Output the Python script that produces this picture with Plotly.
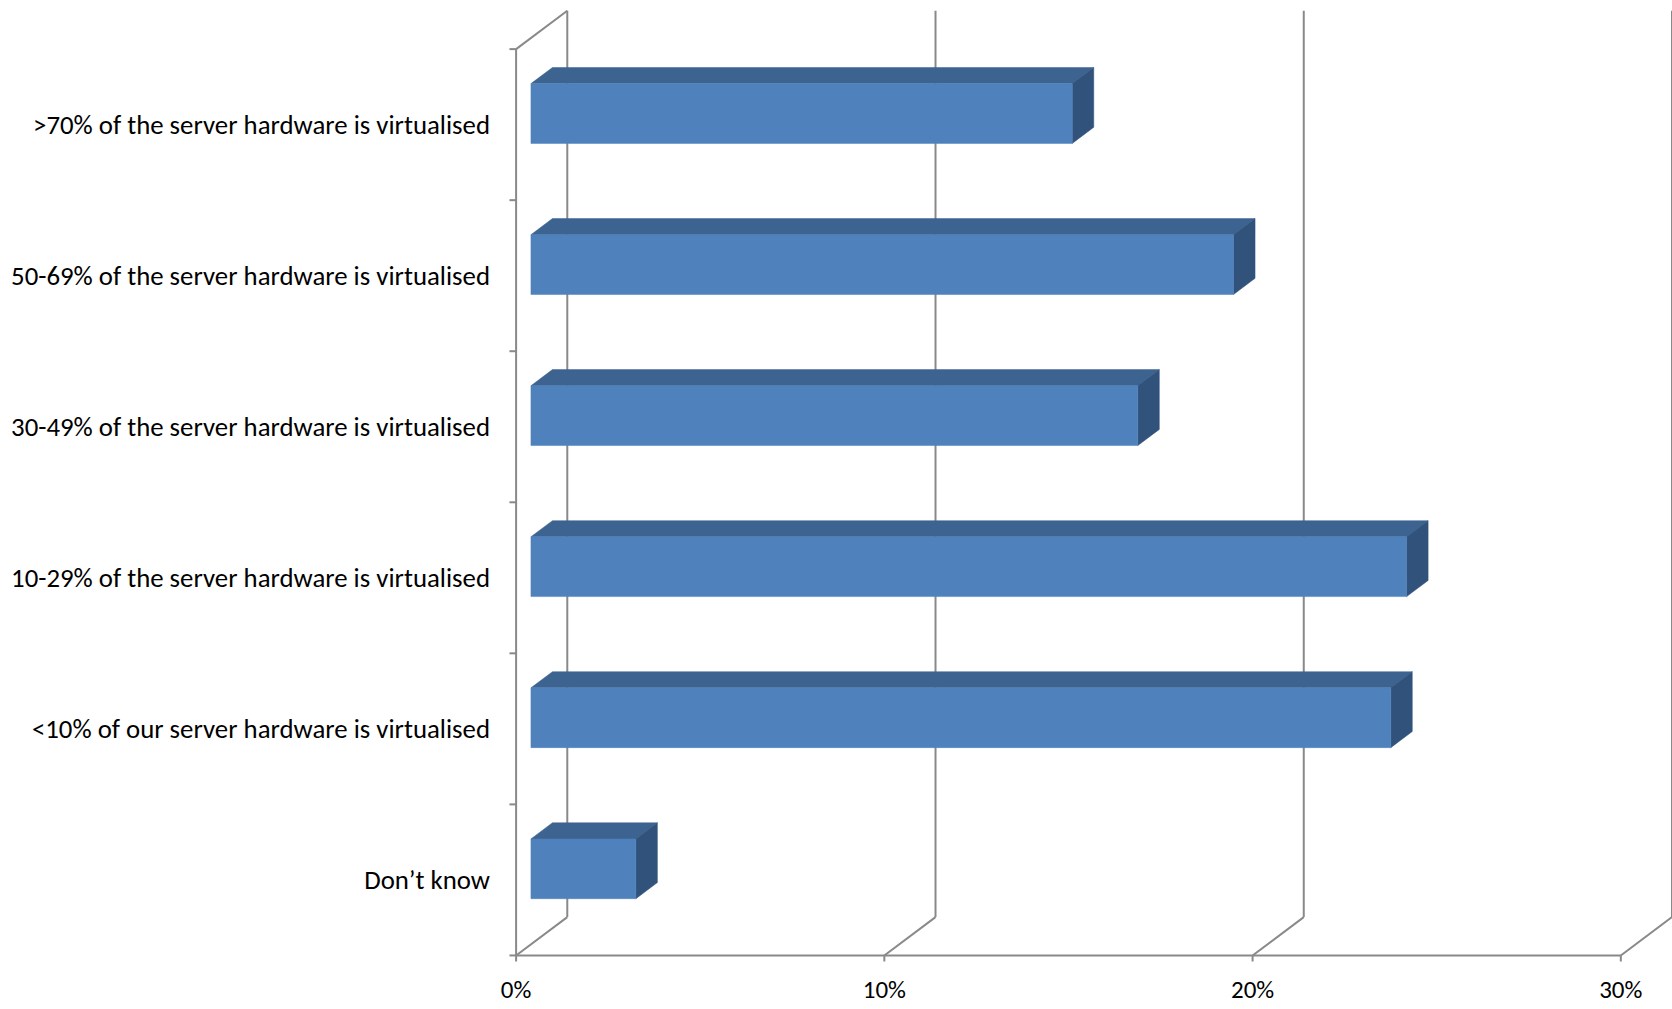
import plotly.graph_objects as go

# ---- data ----
categories = [
    "Don\u2019t know",
    "<10% of our server hardware is virtualised",
    "10-29% of the server hardware is virtualised",
    "30-49% of the server hardware is virtualised",
    "50-69% of the server hardware is virtualised",
    ">70% of the server hardware is virtualised",
]
values = [2.85, 23.35, 23.78, 16.48, 19.08, 14.7]
x_ticks = [0, 10, 20, 30]
x_tick_labels = ["0%", "10%", "20%", "30%"]

# ---- 3D oblique geometry (in data units) ----
DX = 1.39     # depth shift along x (percent units) for full wall depth
DY = 0.254    # depth shift along y (category units)
D0, D1 = 0.29, 0.71   # bar front / back depth
H = 0.198             # half bar thickness
NCAT = len(categories)
XMAX = x_ticks[-1]

GRID = "#898989"
FRONT = "#4F81BD"
TOP = "#3D6390"
SIDE = "#31527A"

fig = go.Figure()

def line(xs, ys, color=GRID, width=2):
    fig.add_trace(go.Scatter(x=xs, y=ys, mode="lines",
                             line=dict(color=color, width=width),
                             hoverinfo="skip", showlegend=False))

# back wall gridlines
for v in x_ticks:
    line([v + DX, v + DX], [DY, NCAT + DY])
# floor diagonals
for v in x_ticks:
    line([v, v + DX], [0, DY])
# left wall top edge
line([0, DX], [NCAT, NCAT + DY])
# front vertical axis
line([0, 0], [0, NCAT])
# left tick stubs
for k in range(NCAT + 1):
    line([-0.18, 0], [k, k])
# front horizontal axis
line([0, XMAX], [0, 0])
for v in x_ticks:
    line([v, v], [0, -0.04])

# bars
def poly(xs, ys, color):
    fig.add_trace(go.Scatter(x=xs + [xs[0]], y=ys + [ys[0]], mode="lines",
                             fill="toself", fillcolor=color,
                             line=dict(color=color, width=0.5),
                             hoverinfo="skip", showlegend=False))

for i, v in enumerate(values):
    c = i + 0.5
    # top face
    poly([D0 * DX, v + D0 * DX, v + D1 * DX, D1 * DX],
         [c + H + D0 * DY, c + H + D0 * DY, c + H + D1 * DY, c + H + D1 * DY], TOP)
    # side face
    poly([v + D0 * DX, v + D0 * DX, v + D1 * DX, v + D1 * DX],
         [c - H + D0 * DY, c + H + D0 * DY, c + H + D1 * DY, c - H + D1 * DY], SIDE)
    # front face
    poly([D0 * DX, v + D0 * DX, v + D0 * DX, D0 * DX],
         [c - H + D0 * DY, c - H + D0 * DY, c + H + D0 * DY, c + H + D0 * DY], FRONT)

FONT = "Carlito, Calibri, Lato, sans-serif"

fig.update_layout(
    width=1672, height=1009,
    margin=dict(l=501, r=0, t=5, b=46),
    plot_bgcolor="white", paper_bgcolor="white",
    hovermode=False,
    font=dict(family=FONT, size=26, color="black"),
    xaxis=dict(range=[-0.41, 31.39], showgrid=False, zeroline=False,
               showline=False, ticks="", tickvals=x_ticks,
               ticktext=x_tick_labels, ticklabelstandoff=9,
               tickfont=dict(size=25)),
    yaxis=dict(range=[-0.05, 6.292], showgrid=False, zeroline=False,
               showline=False, ticks="",
               tickvals=[i + 0.5 for i in range(NCAT)],
               ticktext=categories, ticklabelstandoff=10,
               tickfont=dict(size=26.8)),
)

fig.write_html("out.html")
